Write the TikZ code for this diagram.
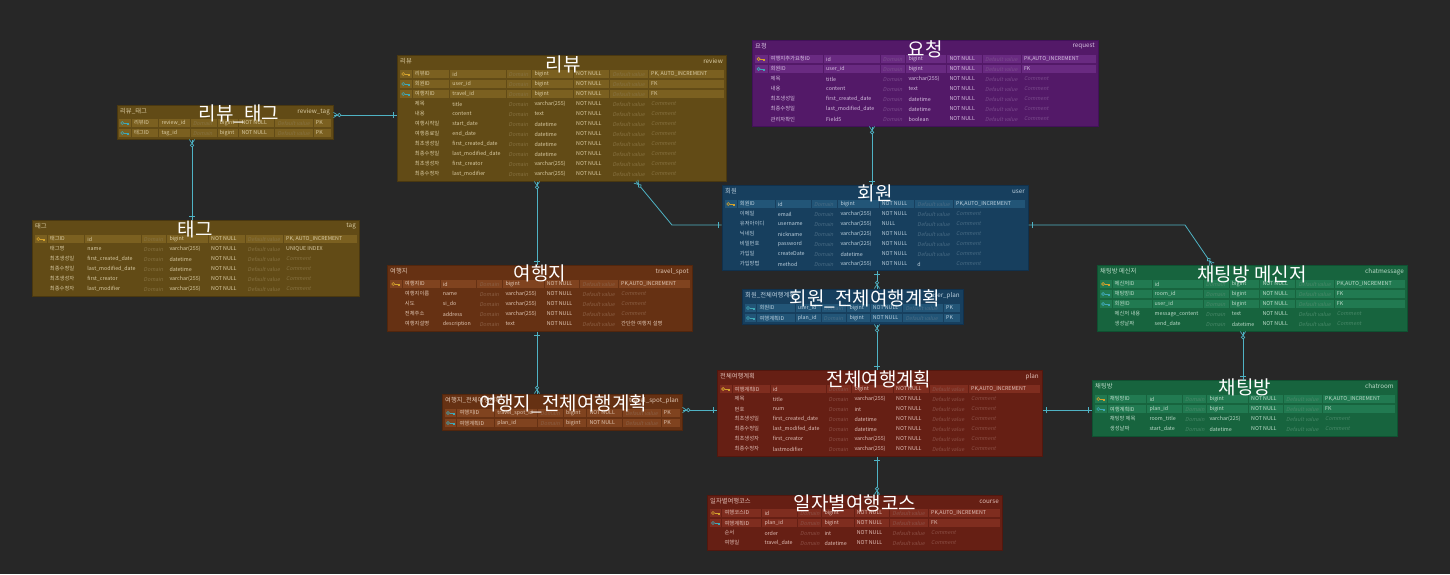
\documentclass[tikz,border=0pt]{standalone}
\usepackage{fontspec}
\setmainfont{Noto Sans CJK KR}
\newfontfamily\fadedfont[FakeSlant=0.2]{Noto Sans CJK KR}
\usetikzlibrary{fit,decorations.markings}
\definecolor{bgc}{HTML}{272727}
\definecolor{link}{HTML}{4FB3C4}
\definecolor{pkc}{HTML}{D4A22C}
\definecolor{fkc}{HTML}{3FA7B5}
\definecolor{olbg}{HTML}{624B16}\definecolor{olcell}{HTML}{7B6020}\definecolor{olline}{HTML}{4A3810}\definecolor{oltext}{HTML}{D9CBA3}
\definecolor{pubg}{HTML}{531968}\definecolor{pucell}{HTML}{692A81}\definecolor{puline}{HTML}{42115A}\definecolor{putext}{HTML}{D6C0E0}
\definecolor{blbg}{HTML}{173F5E}\definecolor{blcell}{HTML}{225577}\definecolor{blline}{HTML}{10314D}\definecolor{bltext}{HTML}{BCD0DE}
\definecolor{brbg}{HTML}{663113}\definecolor{brcell}{HTML}{80431F}\definecolor{brline}{HTML}{52260D}\definecolor{brtext}{HTML}{DFC6B3}
\definecolor{grbg}{HTML}{17643E}\definecolor{grcell}{HTML}{217A51}\definecolor{grline}{HTML}{0F5131}\definecolor{grtext}{HTML}{BCDBC9}
\definecolor{rdbg}{HTML}{661F14}\definecolor{rdcell}{HTML}{7F2D1F}\definecolor{rdline}{HTML}{52170E}\definecolor{rdtext}{HTML}{E0BFB7}
\colorlet{curcell}{olcell}\colorlet{curtext}{oltext}\colorlet{curfade}{oltext}
\newcount\ercnt
\newcommand\ercols[9]{\def\zcA{#1}\def\zcB{#2}\def\zcC{#3}\def\zcD{#4}\def\zcE{#5}\def\zcF{#6}\def\zcG{#7}\def\zcH{#8}\def\zcI{#9}}
\newcommand\erkeycells[1]{\foreach \l/\r in {\zcA/\zcB,\zcB/\zcC,\zcC/\zcD,\zcD/\zcE,\zcE/\zcF,\zcF/\zcG,\zcG/\zcH,\zcH/\zcI}{\fill[curcell] (\l+0.5,#1+0.6) rectangle (\r-0.5,#1+9.4);}}
\newcommand\erkey[2]{\begin{scope}[shift={({(\zcA+\zcB)/2},#1+5)},#2,line width=0.6pt]
  \draw (-2.4,0) circle[radius=1.5];
  \draw (-0.9,0) -- (3.6,0) (2.4,0) -- (2.4,1.6) (3.6,0) -- (3.6,1.6);
 \end{scope}}
\newcommand\errow[8]{%
 \global\advance\ercnt by 1
 \ifx p#2\erkeycells{#1}\erkey{#1}{pkc}\fi
 \ifx f#2\erkeycells{#1}\erkey{#1}{fkc}\fi
 \node[cell] (c\the\ercnt a) at (\zcB+2.5,#1+5) {#3};
 \node[cell] (c\the\ercnt b) at (\zcC+2.5,#1+5) {#4};
 \node[fcell] (c\the\ercnt c) at (\zcD+2.5,#1+5) {Domain};
 \node[cell] (c\the\ercnt d) at (\zcE+2.5,#1+5) {#5};
 \node[cell] (c\the\ercnt e) at (\zcF+2.5,#1+5) {#6};
 \if\relax\detokenize{#7}\relax\node[fcell] (c\the\ercnt f) at (\zcG+2.5,#1+5) {Default value};%
 \else\node[cell] (c\the\ercnt f) at (\zcG+2.5,#1+5) {#7};\fi
 \if\relax\detokenize{#8}\relax\node[fcell] (c\the\ercnt g) at (\zcH+2.5,#1+5) {Comment};%
 \else\node[cell] (c\the\ercnt g) at (\zcH+2.5,#1+5) {#8};\fi
}
\newcommand\ertable[8]{%
 \colorlet{curcell}{#6cell}\colorlet{curtext}{#6text}\colorlet{curfade}{#6text!30!#6bg}%
 \coordinate (#1-nw) at (#2,#3); \coordinate (#1-se) at (#4,#5);
 \node[tbl, fill=#6bg, draw=#6line, fit=(#1-nw)(#1-se)] (#1) {};
 \node[ttl, anchor=west] (#1-tk) at (#2+3,#3+6.5) {#7};
 \node[ttl, anchor=east] (#1-te) at (#4-3,#3+6.5) {#8};
}
\tikzset{
 tbl/.style={inner sep=0pt, line width=1pt},
 ttl/.style={inner sep=0pt, text=curtext, font=\fontsize{6.3}{7}\selectfont},
 cell/.style={anchor=west, inner sep=0pt, text=curtext, font=\fontsize{5.3}{6}\selectfont},
 fcell/.style={anchor=west, inner sep=0pt, text=curfade, font=\fadedfont\fontsize{5.3}{6}\selectfont},
 big/.style={inner sep=0pt, text=white, font=\fontsize{19}{20}\selectfont},
 conn/.style={draw=link, line width=0.8pt},
 oneE/.style={postaction={decorate,decoration={markings,mark=at position -3.5pt with {\draw[link,line width=0.8pt] (0,-3pt)--(0,3pt);}}}},
 oneS/.style={postaction={decorate,decoration={markings,mark=at position 3.5pt with {\draw[link,line width=0.8pt] (0,-3pt)--(0,3pt);}}}},
 manyE/.style={postaction={decorate,decoration={markings,mark=at position 1 with {\draw[link,line width=0.7pt] (-4pt,0)--(0,2.6pt) (-4pt,0)--(0,-2.6pt); \draw[link,line width=0.7pt,fill=bgc] (-5.8pt,0) circle (1.7pt);}}}},
 manyS/.style={postaction={decorate,decoration={markings,mark=at position 0 with {\draw[link,line width=0.7pt] (4pt,0)--(0,2.6pt) (4pt,0)--(0,-2.6pt); \draw[link,line width=0.7pt,fill=bgc] (5.8pt,0) circle (1.7pt);}}}},
}
\begin{document}
\begin{tikzpicture}[x=1pt,y=-1pt]
\useasboundingbox (0,0) rectangle (1450,574);
\fill[bgc] (0,0) rectangle (1450,574);
% review_tag
\ertable{rtag}{117}{105}{333}{139}{ol}{리뷰\_태그}{review\_tag}
\ercols{118}{131.3}{158.8}{190.3}{217.2}{238.8}{274.8}{313.2}{331}
\errow{118}{f}{리뷰ID}{review\_id}{bigint}{NOT NULL}{}{PK}
\errow{128}{f}{태그ID}{tag\_id}{bigint}{NOT NULL}{}{PK}
% tag
\ertable{tag}{32}{220}{359}{296}{ol}{태그}{tag}
\ercols{34}{47.2}{84.7}{141}{166.8}{208.5}{245}{283.5}{357}
\errow{234}{p}{태그ID}{id}{bigint}{NOT NULL}{}{PK, AUTO\_INCREMENT}
\errow{244}{n}{태그명}{name}{varchar(255)}{NOT NULL}{}{UNIQUE INDEX}
\errow{254}{n}{최초생성일}{first\_created\_date}{datetime}{NOT NULL}{}{}
\errow{264}{n}{최종수정일}{last\_modified\_date}{datetime}{NOT NULL}{}{}
\errow{274}{n}{최초생성자}{first\_creator}{varchar(255)}{NOT NULL}{}{}
\errow{284}{n}{최종수정자}{last\_modifier}{varchar(255)}{NOT NULL}{}{}
% review
\ertable{review}{397}{55}{726}{181}{ol}{리뷰}{review}
\ercols{399}{412.2}{449.7}{506}{531.8}{573.5}{609.8}{648.5}{724}
\errow{69}{p}{리뷰ID}{id}{bigint}{NOT NULL}{}{PK, AUTO\_INCREMENT}
\errow{79}{f}{회원ID}{user\_id}{bigint}{NOT NULL}{}{FK}
\errow{89}{f}{여행지ID}{travel\_id}{bigint}{NOT NULL}{}{FK}
\errow{99}{n}{제목}{title}{varchar(255)}{NOT NULL}{}{}
\errow{109}{n}{내용}{content}{text}{NOT NULL}{}{}
\errow{119}{n}{여행시작일}{start\_date}{datetime}{NOT NULL}{}{}
\errow{129}{n}{여행종료일}{end\_date}{datetime}{NOT NULL}{}{}
\errow{139}{n}{최초생성일}{first\_created\_date}{datetime}{NOT NULL}{}{}
\errow{149}{n}{최종수정일}{last\_modified\_date}{datetime}{NOT NULL}{}{}
\errow{159}{n}{최초생성자}{first\_creator}{varchar(255)}{NOT NULL}{}{}
\errow{169}{n}{최종수정자}{last\_modifier}{varchar(255)}{NOT NULL}{}{}
% request
\ertable{request}{752}{40}{1098}{126}{pu}{요청}{request}
\ercols{754}{768}{823.5}{880.2}{905.8}{946.8}{982.5}{1021.3}{1096}
\errow{54}{p}{여행지추가요청ID}{id}{bigint}{NOT NULL}{}{PK,AUTO\_INCREMENT}
\errow{64}{f}{회원ID}{user\_id}{bigint}{NOT NULL}{}{FK}
\errow{74}{n}{제목}{title}{varchar(255)}{NOT NULL}{}{}
\errow{84}{n}{내용}{content}{text}{NOT NULL}{}{}
\errow{94}{n}{최초생성일}{first\_created\_date}{datetime}{NOT NULL}{}{}
\errow{104}{n}{최종수정일}{last\_modified\_date}{datetime}{NOT NULL}{}{}
\errow{114}{n}{관리자확인}{Field5}{boolean}{NOT NULL}{}{}
% user
\ertable{user}{722}{185}{1028}{270}{bl}{회원}{user}
\ercols{724}{737.2}{775.2}{811.3}{837.8}{879.2}{914.7}{953.5}{1025.5}
\errow{199}{p}{회원ID}{id}{bigint}{NOT NULL}{}{PK,AUTO\_INCREMENT}
\errow{209}{n}{이메일}{email}{varchar(255)}{NOT NULL}{}{}
\errow{219}{n}{유저아이디}{username}{varchar(255)}{NULL}{}{}
\errow{229}{n}{닉네임}{nickname}{varchar(225)}{NOT NULL}{}{}
\errow{239}{n}{비밀번호}{password}{varchar(225)}{NOT NULL}{}{}
\errow{249}{n}{가입일}{createDate}{datetime}{NOT NULL}{}{}
\errow{259}{n}{가입방법}{method}{varchar(255)}{NOT NULL}{d}{}
% travel_spot
\ertable{travel}{387}{265}{692}{331}{br}{여행지}{travel\_spot}
\ercols{389}{402.2}{440.2}{476.8}{502.8}{544.2}{579.7}{618.5}{690}
\errow{279}{p}{여행지ID}{id}{bigint}{NOT NULL}{}{PK,AUTO\_INCREMENT}
\errow{289}{n}{여행지이름}{name}{varchar(255)}{NOT NULL}{}{}
\errow{299}{n}{시도}{si\_do}{varchar(255)}{NOT NULL}{}{}
\errow{309}{n}{전체주소}{address}{varchar(255)}{NOT NULL}{}{}
\errow{319}{n}{여행지설명}{description}{text}{NOT NULL}{}{간단한 여행지 설명}
% user_plan
\ertable{uplan}{742}{289}{963}{324}{bl}{회원\_전체여행계획}{user\_plan}
\ercols{744}{756.8}{795.2}{821}{846.8}{870.2}{902.8}{943.5}{960.5}
\errow{303}{f}{회원ID}{user\_id}{bigint}{NOT NULL}{}{PK}
\errow{313}{f}{여행계획ID}{plan\_id}{bigint}{NOT NULL}{}{PK}
% chatmessage
\ertable{chatmsg}{1097}{265}{1407}{331}{gr}{채팅방 메신저}{chatmessage}
\ercols{1099}{1112}{1152}{1203.2}{1229.2}{1259.8}{1295.8}{1334.2}{1405}
\errow{279}{p}{메신저ID}{id}{bigint}{NOT NULL}{}{PK,AUTO\_INCREMENT}
\errow{289}{f}{채팅방ID}{room\_id}{bigint}{NOT NULL}{}{FK}
\errow{299}{f}{회원ID}{user\_id}{bigint}{NOT NULL}{}{FK}
\errow{309}{n}{메신저 내용}{message\_content}{text}{NOT NULL}{}{}
\errow{319}{n}{생성날짜}{send\_date}{datetime}{NOT NULL}{}{}
% travel_spot_plan
\ertable{tsplan}{442}{394}{682}{430}{br}{여행지\_전체여행계획}{travel\_spot\_plan}
\ercols{444}{456.8}{494.7}{537.7}{563.5}{586.8}{622.8}{661.2}{680}
\errow{408}{f}{여행지ID}{travel\_spot\_id}{bigint}{NOT NULL}{}{PK}
\errow{418}{f}{여행계획ID}{plan\_id}{bigint}{NOT NULL}{}{PK}
% plan
\ertable{plan}{717}{370}{1042}{456}{rd}{전체여행계획}{plan}
\ercols{719}{732}{770.2}{826}{851.8}{893.5}{929.3}{968.5}{1040}
\errow{384}{p}{여행계획ID}{id}{bigint}{NOT NULL}{}{PK,AUTO\_INCREMENT}
\errow{394}{n}{제목}{title}{varchar(255)}{NOT NULL}{}{}
\errow{404}{n}{번호}{num}{int}{NOT NULL}{}{}
\errow{414}{n}{최초생성일}{first\_created\_date}{datetime}{NOT NULL}{}{}
\errow{424}{n}{최종수정일}{last\_modifed\_date}{datetime}{NOT NULL}{}{}
\errow{434}{n}{최초생성자}{first\_creator}{varchar(255)}{NOT NULL}{}{}
\errow{444}{n}{최종수정자}{lastmodifier}{varchar(255)}{NOT NULL}{}{}
% chatroom
\ertable{chatroom}{1092}{380}{1397}{436}{gr}{채팅방}{chatroom}
\ercols{1094}{1107.2}{1146.8}{1182.5}{1206.8}{1248.5}{1283.5}{1322.5}{1395}
\errow{394}{p}{채팅방ID}{id}{bigint}{NOT NULL}{}{PK,AUTO\_INCREMENT}
\errow{404}{f}{여행계획ID}{plan\_id}{bigint}{NOT NULL}{}{FK}
\errow{414}{n}{채팅방 제목}{room\_title}{varchar(225)}{NOT NULL}{}{}
\errow{424}{n}{생성날짜}{start\_date}{datetime}{NOT NULL}{}{}
% course
\ertable{course}{707}{495}{1002}{550}{rd}{일자별여행코스}{course}
\ercols{709}{721.8}{761.8}{797.5}{821.8}{854.2}{889.7}{928.5}{1000}
\errow{508}{p}{여행코스ID}{id}{bigint}{NOT NULL}{}{PK,AUTO\_INCREMENT}
\errow{518}{f}{여행계획ID}{plan\_id}{bigint}{NOT NULL}{}{FK}
\errow{528}{n}{순서}{order}{int}{NOT NULL}{}{}
\errow{538}{n}{여행일}{travel\_date}{datetime}{NOT NULL}{}{}
% big labels
\node[big] (L-rtag) at (239,114) {리뷰\_태그};
\node[big] (L-review) at (563,64) {리뷰};
\node[big] (L-request) at (925,49) {요청};
\node[big] (L-tag) at (195,229) {태그};
\node[big] (L-user) at (875,193) {회원};
\node[big] (L-travel) at (540,273) {여행지};
\node[big] (L-chatmsg) at (1252,274) {채팅방 메신저};
\node[big] (L-uplan) at (865,299) {회원\_전체여행계획};
\node[big] (L-plan) at (879,379) {전체여행계획};
\node[big] (L-chatroom) at (1245,387) {채팅방};
\node[big] (L-tsplan) at (563,404) {여행지\_전체여행계획};
\node[big] (L-course) at (855,503) {일자별여행코스};
% routing helpers
\coordinate (h115) at (0,115);
\coordinate (h225) at (0,225);
\coordinate (h410) at (0,410);
\coordinate (v192) at (192,0);
\coordinate (v537) at (537,0);
\coordinate (v636) at (636,0);
\coordinate (v872) at (872,0);
\coordinate (v877) at (877,0);
\coordinate (v1212) at (1212,0);
\coordinate (v1243) at (1243,0);
\coordinate (bendA) at (672,225);
\coordinate (bendB) at (1185,225);
% connectors
\draw[conn,manyS,oneE] (rtag.east |- h115) -- (review.west |- h115);
\draw[conn,manyS,oneE] (rtag.south -| v192) -- (tag.north -| v192);
\draw[conn,manyS,oneE] (review.south -| v537) -- (travel.north -| v537);
\draw[conn,manyS,oneE] (review.south -| v636) -- (bendA) -- (user.west |- bendA);
\draw[conn,manyS,oneE] (request.south -| v872) -- (user.north -| v872);
\draw[conn,oneS,manyE] (user.east |- bendB) -- (bendB) -- (chatmsg.north -| v1212);
\draw[conn,oneS,manyE] (user.south -| v877) -- (uplan.north -| v877);
\draw[conn,manyS,oneE] (uplan.south -| v877) -- (plan.north -| v877);
\draw[conn,oneS,manyE] (travel.south -| v537) -- (tsplan.north -| v537);
\draw[conn,manyS,oneE] (tsplan.east |- h410) -- (plan.west |- h410);
\draw[conn,oneS,oneE] (plan.east |- h410) -- (chatroom.west |- h410);
\draw[conn,manyS,oneE] (chatmsg.south -| v1243) -- (chatroom.north -| v1243);
\draw[conn,oneS,manyE] (plan.south -| v877) -- (course.north -| v877);
\end{tikzpicture}
\end{document}
